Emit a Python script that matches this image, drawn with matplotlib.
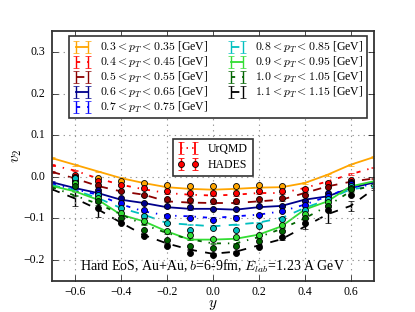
import numpy as np
import matplotlib
matplotlib.use("Agg")
import matplotlib.pyplot as plt

plt.style.use("classic")
plt.rcParams.update({
    "font.family": ["Liberation Serif", "DejaVu Serif"],
    "mathtext.fontset": "cm",
    "figure.facecolor": "white",
    "savefig.facecolor": "white",
    "axes.linewidth": 1.3,
    "axes.edgecolor": "0.2",
    "grid.color": "0.6",
    "grid.linestyle": ":",
    "grid.linewidth": 0.8,
    "xtick.major.pad": 4,
    "ytick.major.pad": 5,
})

# ---------------- data ----------------
pt_labels = [r"$0.3 < p_T < 0.35$ [GeV]", r"$0.4 < p_T < 0.45$ [GeV]",
             r"$0.5 < p_T < 0.55$ [GeV]", r"$0.6 < p_T < 0.65$ [GeV]",
             r"$0.7 < p_T < 0.75$ [GeV]", r"$0.8 < p_T < 0.85$ [GeV]",
             r"$0.9 < p_T < 0.95$ [GeV]", r"$1.0 < p_T < 1.05$ [GeV]",
             r"$1.1 < p_T < 1.15$ [GeV]"]
colors = ["#FFA500", "#FF0000", "#8B0000", "#00008B", "#0000FF",
          "#00BFBF", "#33DD33", "#006400", "#000000"]
styles = ["-", "-.", "--", "-", "-.", "--", "-", "-.", "--"]

y_model = [-0.7, -0.6, -0.5, -0.4, -0.3, -0.2, -0.1, 0.0, 0.1, 0.2, 0.3, 0.4, 0.5, 0.6, 0.7]
urqmd_orange = [0.045, 0.029, 0.013, -0.003, -0.015, -0.025, -0.029, -0.031, -0.029, -0.026, -0.025, -0.015, 0.005, 0.029, 0.047]
urqmd_red = [0.028, 0.015, -0.004, -0.019, -0.030, -0.039, -0.043, -0.045, -0.043, -0.039, -0.039, -0.027, -0.011, 0.006, 0.022]
urqmd_darkred = [0.012, -0.004, -0.022, -0.035, -0.043, -0.059, -0.062, -0.063, -0.063, -0.059, -0.055, -0.039, -0.023, -0.012, -0.004]
urqmd_navy = [-0.013, -0.027, -0.039, -0.055, -0.063, -0.073, -0.077, -0.077, -0.079, -0.073, -0.070, -0.055, -0.047, -0.027, -0.014]
urqmd_blue = [-0.018, -0.030, -0.043, -0.066, -0.083, -0.093, -0.095, -0.099, -0.095, -0.091, -0.083, -0.067, -0.047, -0.025, -0.019]
urqmd_cyan = [-0.020, -0.032, -0.051, -0.075, -0.091, -0.111, -0.115, -0.119, -0.115, -0.110, -0.099, -0.075, -0.055, -0.030, -0.023]
urqmd_green = [-0.022, -0.035, -0.055, -0.091, -0.107, -0.131, -0.151, -0.151, -0.149, -0.139, -0.119, -0.079, -0.059, -0.023, -0.011]
urqmd_darkgreen = [-0.025, -0.045, -0.065, -0.090, -0.115, -0.135, -0.150, -0.160, -0.160, -0.145, -0.125, -0.100, -0.070, -0.035, -0.020]
urqmd_black = [-0.030, -0.052, -0.078, -0.110, -0.140, -0.160, -0.175, -0.185, -0.180, -0.165, -0.150, -0.120, -0.090, -0.070, -0.030]
urqmd_black_err = [0.002, 0.017, 0.018, 0.002, 0.002, 0.002, 0.002, 0.002, 0.002, 0.002, 0.002, 0.006, 0.022, 0.013, 0.002]
urqmd_err = 0.002

y_data = [-0.6, -0.5, -0.4, -0.3, -0.2, -0.1, 0.0, 0.1, 0.2, 0.3, 0.4, 0.5, 0.6]
nan = np.nan
hades_orange = [nan, -0.003, -0.011, -0.015, -0.019, -0.022, -0.023, -0.023, -0.019, -0.023, nan, nan, nan]
hades_red = [0.004, -0.011, -0.019, -0.027, -0.035, -0.038, -0.039, -0.038, -0.035, -0.035, -0.030, -0.014, -0.008]
hades_darkred = [0.000, -0.019, -0.035, -0.043, -0.053, -0.055, -0.057, -0.057, -0.053, -0.051, -0.043, -0.025, -0.012]
hades_navy = [-0.008, -0.031, -0.050, -0.062, -0.071, -0.073, -0.077, -0.077, -0.071, -0.070, -0.059, -0.038, -0.015]
hades_blue = [-0.012, -0.039, -0.063, -0.079, -0.095, -0.099, -0.103, -0.099, -0.091, -0.083, -0.067, -0.045, -0.018]
hades_cyan = [-0.004, -0.043, -0.075, -0.095, -0.111, -0.127, -0.123, -0.127, -0.119, -0.101, -0.079, -0.053, -0.022]
hades_green = [-0.015, -0.051, -0.087, -0.107, -0.131, -0.139, -0.149, -0.145, -0.139, -0.115, -0.089, -0.061, -0.026]
hades_darkgreen = [-0.023, -0.059, -0.099, -0.127, -0.151, -0.167, -0.171, -0.167, -0.155, -0.131, -0.099, -0.071, -0.030]
hades_black = [nan, -0.075, -0.110, -0.143, -0.167, -0.183, -0.187, -0.183, -0.168, -0.145, -0.111, -0.079, -0.043]
hades_err = 0.004

urqmd = [urqmd_orange, urqmd_red, urqmd_darkred, urqmd_navy, urqmd_blue,
         urqmd_cyan, urqmd_green, urqmd_darkgreen, urqmd_black]
hades = [hades_orange, hades_red, hades_darkred, hades_navy, hades_blue,
         hades_cyan, hades_green, hades_darkgreen, hades_black]

# ---------------- plot ----------------
fig = plt.figure(figsize=(4.15, 3.12), dpi=100)
ax = fig.add_axes([0.125, 0.1, 0.775, 0.8])

handles = []
for i in range(9):
    err = urqmd_black_err if i == 8 else urqmd_err
    h = ax.errorbar(y_model, urqmd[i], yerr=err, color=colors[i], ls=styles[i],
                    lw=1.3, capsize=2.0, elinewidth=1.0, label=pt_labels[i], zorder=2)
    handles.append(h)
for i in range(9):
    ax.errorbar(y_data, hades[i], yerr=hades_err, fmt="o", color=colors[i],
                mfc=colors[i], mec="k", mew=0.6, ms=4.3, ecolor="k",
                elinewidth=0.8, capsize=0, zorder=3)

ax.set_xlim(-0.7, 0.7)
ax.set_ylim(-0.25, 0.35)
ax.set_xticks([-0.6, -0.4, -0.2, 0.0, 0.2, 0.4, 0.6])
ax.set_yticks([-0.2, -0.1, 0.0, 0.1, 0.2, 0.3])
ax.tick_params(labelsize=8.5)
ax.grid(True)
ax.set_xlabel(r"$y$", fontsize=11, labelpad=0)
ax.set_ylabel(r"$v_2$", fontsize=11, labelpad=0)

leg1 = ax.legend(handles=handles, ncol=2, loc="upper center",
                 bbox_to_anchor=(0.516, 0.98), borderaxespad=0, fontsize=8.5,
                 numpoints=2, handlelength=1.6, handletextpad=0.7,
                 columnspacing=1.7, labelspacing=0.0,
                 borderpad=0.3, fancybox=False)
leg1.get_frame().set_edgecolor("0.2")
leg1.get_frame().set_linewidth(1.2)
ax.add_artist(leg1)

p1 = ax.errorbar([nan], [nan], yerr=[0.01], color="r", ls=":", lw=1.3, capsize=2.0)
p2 = ax.errorbar([nan], [nan], yerr=[0.01], fmt="o", color="r", mfc="r",
                 mec="k", mew=0.6, ms=4.3, ecolor="r", capsize=2.0)
leg2 = ax.legend([p1, p2], ["UrQMD", "HADES"], loc="upper center",
                 bbox_to_anchor=(0.5, 0.57), borderaxespad=0, fontsize=8.5,
                 numpoints=2, handlelength=1.8, handletextpad=0.8,
                 labelspacing=0.3, borderpad=0.4, fancybox=False)
leg2.get_frame().set_edgecolor("0.2")
leg2.get_frame().set_linewidth(1.2)

ax.text(0.5, 0.06, r"Hard EoS, Au+Au, $b$=6-9fm, $E_{lab}$=1.23 A GeV",
        transform=ax.transAxes, ha="center", va="center", fontsize=10)

fig.savefig("out.png", dpi=100)
